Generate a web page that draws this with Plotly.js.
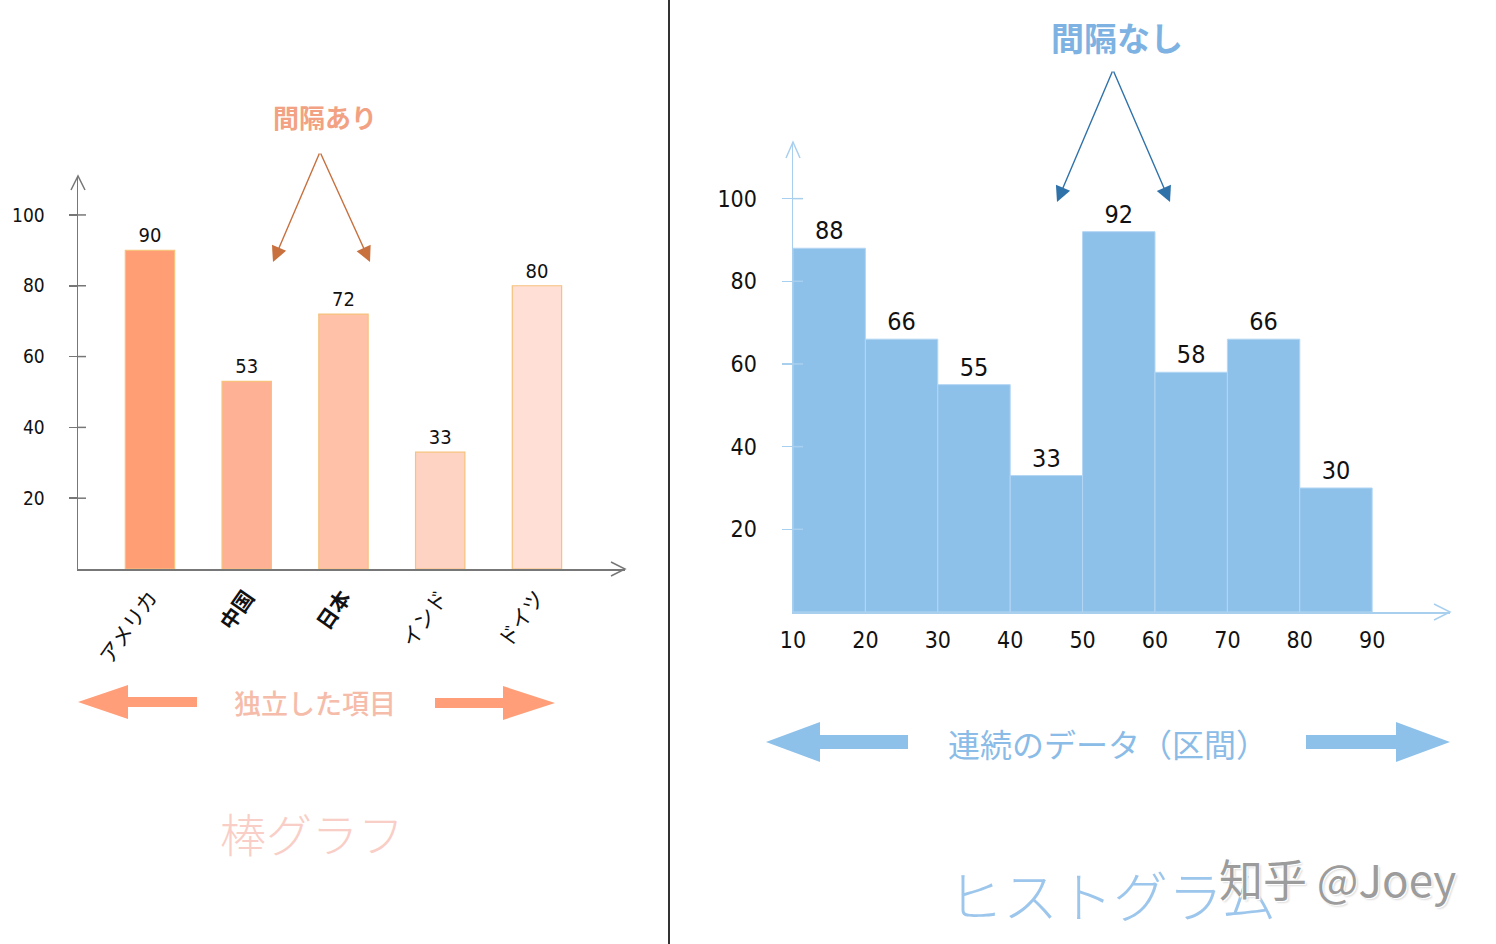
<!DOCTYPE html>
<html>
<head>
<meta charset="utf-8">
<script src="https://cdn.plot.ly/plotly-3.0.1.min.js"></script>
<style>html,body{margin:0;padding:0;background:#fff;}#chart{width:1496px;height:944px;}</style>
</head>
<body>
<div id="chart"></div>
<script>
// ---- data ----
const categories = ['アメリカ', '中国', '日本', 'インド', 'ドイツ'];
const barValues = [90, 53, 72, 33, 80];
const barTickValues = [20, 40, 60, 80, 100];

const binEdges = [10, 20, 30, 40, 50, 60, 70, 80, 90];
const histCounts = [88, 66, 55, 33, 92, 58, 66, 30];
const histYTickValues = [20, 40, 60, 80, 100];
const histXTickValues = [10, 20, 30, 40, 50, 60, 70, 80, 90];

// ---- styles ----
const barColors = ['#FF9E75', '#FFB195', '#FFC2A9', '#FFD3C4', '#FFDFD6'];
const histColor = '#8DC1EA';
const W = 1496, H = 944;
const P = x => x / W;
const Q = y => 1 - y / H;
const numFont = '"Liberation Sans Narrow", "DejaVu Sans Condensed", "Liberation Mono", monospace';
const jpFont = '"Noto Sans CJK JP", "Noto Sans", sans-serif';

const binCenters = histCounts.map((_, i) => (binEdges[i] + binEdges[i + 1]) / 2);
const binWidths = histCounts.map((_, i) => binEdges[i + 1] - binEdges[i]);
// kanji labels appear bold in the reference
const categoryTickText = categories.map(c => /^[\u4e00-\u9fff]+$/.test(c) ? '<b>' + c + '</b>' : c);

const traces = [
  {
    type: 'bar', x: categories, y: barValues, xaxis: 'x', yaxis: 'y',
    width: 0.51,
    marker: {color: barColors, line: {color: '#F6C27C', width: 1.2}},
    text: barValues.map(String), textposition: 'outside', cliponaxis: false,
    textfont: {family: numFont, size: 20, color: '#111'},
    hoverinfo: 'skip'
  },
  {
    type: 'bar', x: binCenters, y: histCounts, width: binWidths, xaxis: 'x2', yaxis: 'y2',
    marker: {color: histColor, line: {color: '#B3D6F3', width: 1}},
    text: histCounts.map(String), textposition: 'outside', cliponaxis: false,
    textfont: {family: numFont, size: 25, color: '#111'},
    hoverinfo: 'skip'
  }
];

function fatArrow(tipX, y, baseX, tailX, hh, sh) {
  const pts = [[tailX, y - sh], [baseX, y - sh], [baseX, y - hh], [tipX, y], [baseX, y + hh], [baseX, y + sh], [tailX, y + sh]];
  return 'M ' + pts.map(p => P(p[0]).toFixed(5) + ',' + Q(p[1]).toFixed(5)).join(' L ') + ' Z';
}
function polyline(pts) {
  return 'M ' + pts.map(p => P(p[0]).toFixed(5) + ',' + Q(p[1]).toFixed(5)).join(' L ');
}

const shapes = [
  {type: 'line', xref: 'paper', yref: 'paper', x0: P(669), x1: P(669), y0: 0, y1: 1, line: {color: '#333', width: 2}},
  // axis arrow chevrons
  {type: 'path', xref: 'paper', yref: 'paper', path: polyline([[71, 190], [78, 176], [85, 190]]), line: {color: '#777', width: 1.5}},
  {type: 'path', xref: 'paper', yref: 'paper', path: polyline([[611, 562], [625, 569], [611, 576]]), line: {color: '#777', width: 1.5}},
  {type: 'path', xref: 'paper', yref: 'paper', path: polyline([[786, 158], [793, 142], [800, 158]]), line: {color: '#A9CFEF', width: 1.5}},
  {type: 'path', xref: 'paper', yref: 'paper', path: polyline([[1434, 604], [1450, 612], [1434, 620]]), line: {color: '#A9CFEF', width: 1.5}},
  // fat arrows
  {type: 'path', xref: 'paper', yref: 'paper', path: fatArrow(78, 702, 128, 197, 17, 5), fillcolor: '#FF9E78', line: {width: 0}},
  {type: 'path', xref: 'paper', yref: 'paper', path: fatArrow(555, 703, 503, 435, 17, 5), fillcolor: '#FF9E78', line: {width: 0}},
  {type: 'path', xref: 'paper', yref: 'paper', path: fatArrow(766, 742, 820, 908, 20, 7), fillcolor: '#8DC1EA', line: {width: 0}},
  {type: 'path', xref: 'paper', yref: 'paper', path: fatArrow(1450, 742, 1396, 1306, 20, 7), fillcolor: '#8DC1EA', line: {width: 0}}
];
// inner halves of tick marks crossing the axes
barTickValues.forEach(v => shapes.push({type: 'line', xref: 'paper', yref: 'y', x0: P(78), x1: P(86), y0: v, y1: v, line: {color: '#777', width: 1.5}}));
histYTickValues.forEach(v => shapes.push({type: 'line', xref: 'paper', yref: 'y2', x0: P(793), x1: P(803), y0: v, y1: v, line: {color: '#A9CFEF', width: 1.5}}));

function label(text, x, y, size, color, weight, extra) {
  return Object.assign({text: text, xref: 'paper', yref: 'paper', x: P(x), y: Q(y), xanchor: 'center', yanchor: 'middle', showarrow: false,
    font: {family: jpFont, size: size, color: color, weight: weight}}, extra || {});
}
function arrow(tail, head, color) {
  return {text: '', xref: 'paper', yref: 'paper', x: P(head[0]), y: Q(head[1]), ax: tail[0] - head[0], ay: tail[1] - head[1],
    showarrow: true, arrowhead: 2, arrowsize: 2.2, arrowwidth: 1.4, arrowcolor: color, standoff: 0, startstandoff: 0};
}

const annotations = [
  label('間隔あり', 325, 116, 26, '#F2A283', 700),
  arrow([320, 152], [273, 262], '#C8703E'),
  arrow([320, 152], [370, 262], '#C8703E'),
  label('独立した項目', 315, 702, 27, '#F6BCAA', 500),
  label('棒グラフ', 312, 832, 46, '#F9CEC6', 300),
  label('間隔なし', 1117, 37, 33, '#7DB2E2', 700),
  arrow([1113, 70], [1057, 202], '#2F72AA'),
  arrow([1113, 70], [1170, 202], '#2F72AA'),
  label('連続のデータ（区間）', 1108, 743, 32, '#8ABCE7', 400),
  label('ヒストグラム', 1112, 893, 55, '#9CC6EC', 300),
  label('知乎 @Joey', 1337, 878, 44, '#9C9C9C', 400, {})
];
annotations[annotations.length - 1].font.shadow = '1px 1px 0 #fff, -1px -1px 0 #fff, 2px 2px 2px #ddd';

const layout = {
  width: W, height: H,
  margin: {l: 0, r: 0, t: 0, b: 0, pad: 0},
  paper_bgcolor: '#fff', plot_bgcolor: '#fff',
  showlegend: false,
  xaxis: {
    domain: [P(78), P(625)], anchor: 'y', type: 'category', range: [-0.744, 4.91],
    showline: true, linecolor: '#777', linewidth: 1.5, showgrid: false, zeroline: false,
    tickmode: 'array', tickvals: categories, ticktext: categoryTickText,
    ticks: '', tickangle: -55, ticklabelstandoff: 6,
    tickfont: {family: jpFont, size: 21, color: '#111'}
  },
  yaxis: {
    domain: [Q(569), Q(176)], anchor: 'x', range: [0, 111],
    showline: true, linecolor: '#777', linewidth: 1.5, showgrid: false, zeroline: false,
    tickvals: barTickValues, ticks: 'outside', ticklen: 8, tickwidth: 1.5, tickcolor: '#777', ticklabelstandoff: 20,
    tickfont: {family: numFont, size: 19, color: '#111'}
  },
  xaxis2: {
    domain: [P(793), P(1450)], anchor: 'y2', range: [10, 100.75],
    showline: true, linecolor: '#A9CFEF', linewidth: 1.5, showgrid: false, zeroline: false,
    tickvals: histXTickValues, ticks: '', ticklabelstandoff: 7,
    tickfont: {family: numFont, size: 23, color: '#111'}
  },
  yaxis2: {
    domain: [Q(612), Q(142)], anchor: 'x2', range: [0, 113.7],
    showline: true, linecolor: '#A9CFEF', linewidth: 1.5, showgrid: false, zeroline: false,
    tickvals: histYTickValues, ticks: 'outside', ticklen: 10, tickwidth: 1.5, tickcolor: '#A9CFEF', ticklabelstandoff: 20,
    tickfont: {family: numFont, size: 23, color: '#111'}
  },
  shapes: shapes,
  annotations: annotations
};

Plotly.newPlot('chart', traces, layout, {displayModeBar: false, staticPlot: true});
</script>
</body>
</html>
